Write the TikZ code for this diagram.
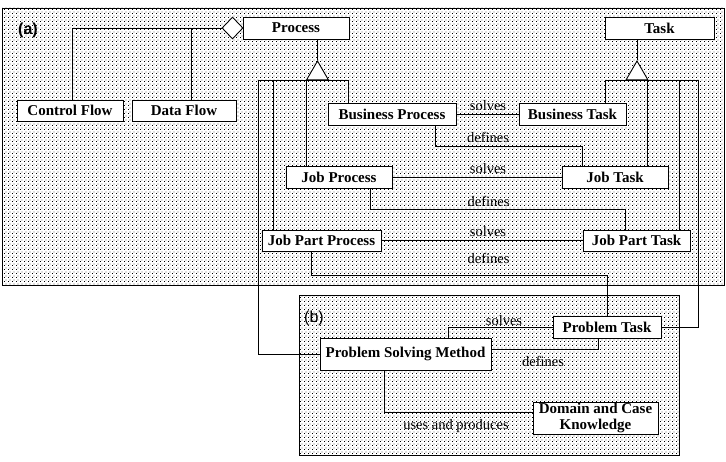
\documentclass[tikz,border=0pt]{standalone}
\usepackage{fontspec}
\setmainfont{Liberation Serif}
\setsansfont{Liberation Sans}
\usetikzlibrary{shapes.geometric,patterns}
\pgfdeclarepatternformonly{fdots}{\pgfqpoint{0pt}{0pt}}{\pgfqpoint{4pt}{4pt}}{\pgfqpoint{4pt}{4pt}}{%
\pgfpathrectangle{\pgfqpoint{0pt}{0pt}}{\pgfqpoint{1pt}{1pt}}%
\pgfpathrectangle{\pgfqpoint{2pt}{2pt}}{\pgfqpoint{1pt}{1pt}}%
\pgfusepath{fill}}
\begin{document}
\begin{tikzpicture}[x=1pt, y=1pt, line width=0.9pt]
\tikzstyle{box}=[draw=black, fill=white, inner sep=0pt, minimum height=22pt, font=\fontsize{15}{16}\selectfont\bfseries]
\tikzstyle{lbl}=[inner sep=0pt, font=\fontsize{14.5}{16}\selectfont]
\tikzstyle{gen}=[regular polygon, regular polygon sides=3, draw=black, fill=white, inner sep=0pt, minimum size=25pt]
\tikzstyle{panel}=[draw=black, pattern=fdots]
\useasboundingbox (0,0) rectangle (726,-462);
\draw [panel] (2,-8) rectangle (724,-285);
\draw [panel] (299,-295) rectangle (679,-455);
\node [inner sep=0pt, font=\sffamily\bfseries\fontsize{16}{18}\selectfont] (la) at (28,-30.5) {(a)};
\node [inner sep=0pt, font=\sffamily\fontsize{16}{18}\selectfont] (lb) at (314,-318.5) {(b)};
\node [box, minimum width=106pt] (proc) at (296,-28) {Process};
\node [box, minimum width=109pt] (task) at (659.5,-28) {Task};
\node [diamond, draw=black, fill=white, inner sep=0pt, minimum width=21pt, minimum height=22pt] (agg) at (232.5,-28) {};
\node [box, minimum width=106pt, minimum height=21pt] (cflow) at (70,-110.5) {Control Flow};
\node [box, minimum width=104pt, minimum height=21pt] (dflow) at (184,-110.5) {Data Flow};
\node [box, minimum width=128pt] (bproc) at (392,-114) {Business Process};
\node [box, minimum width=107pt] (btask) at (572.5,-114) {Business Task};
\node [box, minimum width=106pt] (jproc) at (339,-177) {Job Process};
\node [box, minimum width=106pt] (jtask) at (615,-177) {Job Task};
\node [box, minimum width=119pt, minimum height=21pt] (jpproc) at (321.5,-240.5) {Job Part Process};
\node [box, minimum width=107pt, minimum height=21pt] (jptask) at (636.5,-240.5) {Job Part Task};
\node [box, minimum width=108pt] (ptask) at (607,-327) {Problem Task};
\node [box, minimum width=171pt, minimum height=32pt] (psm) at (405.5,-354) {Problem Solving Method};
\node [box, minimum width=125pt, minimum height=32pt, align=center] (dck) at (595.5,-418) {Domain and Case\\Knowledge};
\node [gen] (pgen) at (317.5,-73.5) {};
\node [gen] (tgen) at (637,-73.5) {};
\draw (proc.south -| pgen.north) -- (pgen.north);
\draw (task.south -| tgen.north) -- (tgen.north);
\draw ([xshift=2pt]cflow.north) |- (agg.west);
\draw ([xshift=7pt]dflow.north) -- ([xshift=7pt]dflow.north |- agg.west);
\draw (pgen.south) -| ([xshift=21pt]bproc.north west);
\draw (pgen.south) -| ([xshift=21pt]jproc.north west);
\draw (pgen.south) -| ([xshift=12pt]jpproc.north west);
\draw (pgen.south) -- ++(-59.5,0) |- (psm.west);
\draw (tgen.south) -| ([xshift=-21pt]btask.north east);
\draw (tgen.south) -| ([xshift=-21pt]jtask.north east);
\draw (tgen.south) -| ([xshift=-11pt]jptask.north east);
\draw (tgen.south) -- ++(61,0) |- (ptask.east);
\draw (bproc.east) -- (btask.west);
\draw (jproc.east) -- (jtask.west);
\draw (jpproc.east) -- (jptask.west);
\draw ([xshift=-21pt]bproc.south east) -- ++(0,-21) -| ([xshift=21pt]jtask.north west);
\draw ([xshift=-22pt]jproc.south east) -- ++(0,-21) -| ([xshift=43pt]jptask.north west);
\draw ([xshift=-70pt]jpproc.south east) -- ++(0,-24) -| (ptask.north);
\draw (ptask.west) -| ([xshift=-43pt]psm.north east);
\draw ([yshift=5pt]psm.east) -| ([xshift=-9pt]ptask.south);
\draw ([xshift=-21.5pt]psm.south) |- ([yshift=6pt]dck.west);
\node [lbl] (s1) at (488,-106) {solves};
\node [lbl] (d1) at (488,-137.5) {defines};
\node [lbl] (s2) at (488,-169) {solves};
\node [lbl] (d2) at (488.5,-201) {defines};
\node [lbl] (s3) at (488,-232) {solves};
\node [lbl] (d3) at (488.5,-258) {defines};
\node [lbl] (s4) at (504,-321) {solves};
\node [lbl] (d4) at (543,-361) {defines};
\node [lbl] (u1) at (456,-426) {uses and produces};
\end{tikzpicture}
\end{document}
